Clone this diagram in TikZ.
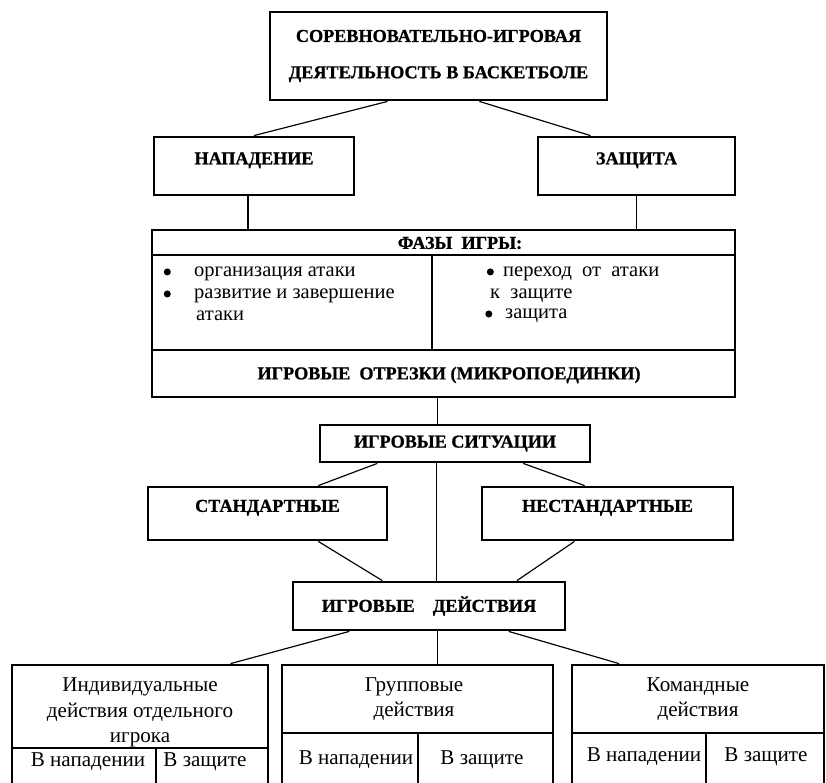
\documentclass[tikz,border=0pt]{standalone}
\usepackage{fontspec}
\setmainfont{Liberation Serif}[BoldFeatures={FakeBold=1}]
\usetikzlibrary{calc}

% точка для пунктов
\newcommand{\phasedot}{\tikz[baseline=-0.5ex]\fill (0,0) circle (3pt);}

\begin{document}
\begin{tikzpicture}[
        x=0.03cm, y=-0.03cm,
        % Жирный текст
        boldtext/.style={
                inner sep=0pt,
                font=\fontsize{15.5}{18}\selectfont\bfseries
            },
        % Толстая рамка
        thickbox/.style={
                boldtext,
                rectangle,
                draw=black,
                line width=2.4pt,
                align=center
            },
        % Рамка с надписью у верхнего края
        upperbox/.style={
                thickbox,
                text height=0.35cm,
                text depth=0.45cm
            },
        % Тонкие линии
        link/.style={line width=1pt},
        % Пункты фаз игры
        bulletitem/.style={
                inner sep=0pt,
                anchor=west,
                font=\fontsize{17.5}{20}\selectfont
            },
        % Текст нижних блоков
        plaintext/.style={
                inner sep=0pt,
                align=center,
                font=\fontsize{18}{21.5}\selectfont
            }
    ]
    \useasboundingbox (0,0) rectangle (826,783);
    \clip (0,0) rectangle (826,783);

    % ВЕРХ
    \node[thickbox, minimum width=10.11cm, minimum height=2.64cm] (game) at (438.5,56)
        {СОРЕВНОВАТЕЛЬНО-ИГРОВАЯ\\[13pt]ДЕЯТЕЛЬНОСТЬ В БАСКЕТБОЛЕ};
    \node[upperbox, minimum width=6cm, minimum height=1.74cm] (attack) at (254,166) {НАПАДЕНИЕ};
    \node[upperbox, minimum width=5.91cm, minimum height=1.74cm] (defence) at (636.5,166) {ЗАЩИТА};

    % ФАЗЫ ИГРЫ
    \node[thickbox, minimum width=17.49cm, minimum height=5.01cm] (phases) at (443.5,313.5) {};
    \node[boldtext] (phtitle) at (460,243) {ФАЗЫ\ \ ИГРЫ:};
    \draw[link] (phases.west |- 0,255) -- (phases.east |- 0,255);
    \draw[link] (432,255) -- (432,350);
    \draw[link] (phases.west |- 0,350) -- (phases.east |- 0,350);
    \node[bulletitem] (org) at (194,274) {\llap{\phasedot\hspace{20pt}}организация атаки};
    \node[bulletitem] (dev) at (194,296) {\llap{\phasedot\hspace{20pt}}развитие и завершение};
    \node[bulletitem] (devb) at (196,316) {атаки};
    \node[bulletitem] (trans) at (503,274) {\llap{\phasedot\hspace{8pt}}переход\ \ от\ \ атаки};
    \node[bulletitem] (transb) at (490,296) {к\ \ защите};
    \node[bulletitem] (def) at (505,316) {\llap{\phasedot\hspace{11pt}}защита};
    \node[boldtext] (segments) at (449,375) {ИГРОВЫЕ\ \ ОТРЕЗКИ (МИКРОПОЕДИНКИ)};

    % СИТУАЦИИ
    \node[thickbox, minimum width=8.1cm, minimum height=1.11cm] (situations) at (455,443.5) {ИГРОВЫЕ СИТУАЦИИ};
    \node[upperbox, minimum width=7.17cm, minimum height=1.59cm] (standard) at (267.5,513.5) {СТАНДАРТНЫЕ};
    \node[upperbox, minimum width=7.53cm, minimum height=1.59cm] (nonstandard) at (607.5,513.5) {НЕСТАНДАРТНЫЕ};

    % ДЕЙСТВИЯ
    \node[thickbox, minimum width=8.16cm, minimum height=1.44cm] (actions) at (429,606) {ИГРОВЫЕ\quad ДЕЙСТВИЯ};

    \node[thickbox, minimum width=7.68cm, minimum height=3.63cm] (single) at (140,725.5) {};
    \node[plaintext] (singletxt) at (140,712.5) {Индивидуальные\\действия отдельного\\игрока};
    \draw[link] (single.west |- 0,748) -- (single.east |- 0,748);
    \draw[link] (156,748) -- (156,790);
    \node[plaintext] (singleatt) at (88,762) {В нападении};
    \node[plaintext] (singledef) at (205,762) {В защите};

    \node[thickbox, minimum width=8.13cm, minimum height=3.63cm] (group) at (417.5,725.5) {};
    \node[plaintext] (grouptxt) at (414,699.5) {Групповые\\действия};
    \draw[link] (group.west |- 0,733) -- (group.east |- 0,733);
    \draw[link] (418,733) -- (418,790);
    \node[plaintext] (groupatt) at (356,760) {В нападении};
    \node[plaintext] (groupdef) at (482,760) {В защите};

    \node[thickbox, minimum width=7.56cm, minimum height=3.63cm] (team) at (698,725.5) {};
    \node[plaintext] (teamtxt) at (698,699.5) {Командные\\действия};
    \draw[link] (team.west |- 0,733) -- (team.east |- 0,733);
    \draw[link] (706,733) -- (706,790);
    \node[plaintext] (teamatt) at (644,757) {В нападении};
    \node[plaintext] (teamdef) at (766,757) {В защите};

    % Связи
    \draw[link] ($(game.south west)!0.35!(game.south east)$) -- (attack.north);
    \draw[link] ($(game.south west)!0.62!(game.south east)$) -- ($(defence.north west)!0.27!(defence.north east)$);
    \coordinate (attfoot) at ($(attack.south west)!0.47!(attack.south east)$);
    \draw[link] (attfoot) -- (attfoot |- phases.north);
    \draw[link] (defence.south) -- (defence.south |- phases.north);
    \coordinate (phfoot) at ($(phases.south west)!0.49!(phases.south east)$);
    \draw[link] (phfoot) -- (phfoot |- situations.north);
    \draw[link] ($(situations.south west)!0.215!(situations.south east)$) -- ($(standard.north west)!0.71!(standard.north east)$);
    \draw[link] ($(situations.south west)!0.75!(situations.south east)$) -- ($(nonstandard.north west)!0.41!(nonstandard.north east)$);
    \coordinate (sitfoot) at ($(situations.south west)!0.433!(situations.south east)$);
    \draw[link] (sitfoot) -- (sitfoot |- actions.north);
    \draw[link] ($(standard.south west)!0.71!(standard.south east)$) -- ($(actions.north west)!0.33!(actions.north east)$);
    \draw[link] ($(nonstandard.south west)!0.37!(nonstandard.south east)$) -- ($(actions.north west)!0.82!(actions.north east)$);
    \draw[link] ($(actions.south west)!0.21!(actions.south east)$) -- ($(single.north west)!0.85!(single.north east)$);
    \coordinate (actfoot) at ($(actions.south west)!0.53!(actions.south east)$);
    \draw[link] (actfoot) -- (actfoot |- group.north);
    \draw[link] ($(actions.south west)!0.79!(actions.south east)$) -- ($(team.north west)!0.19!(team.north east)$);

\end{tikzpicture}
\end{document}
